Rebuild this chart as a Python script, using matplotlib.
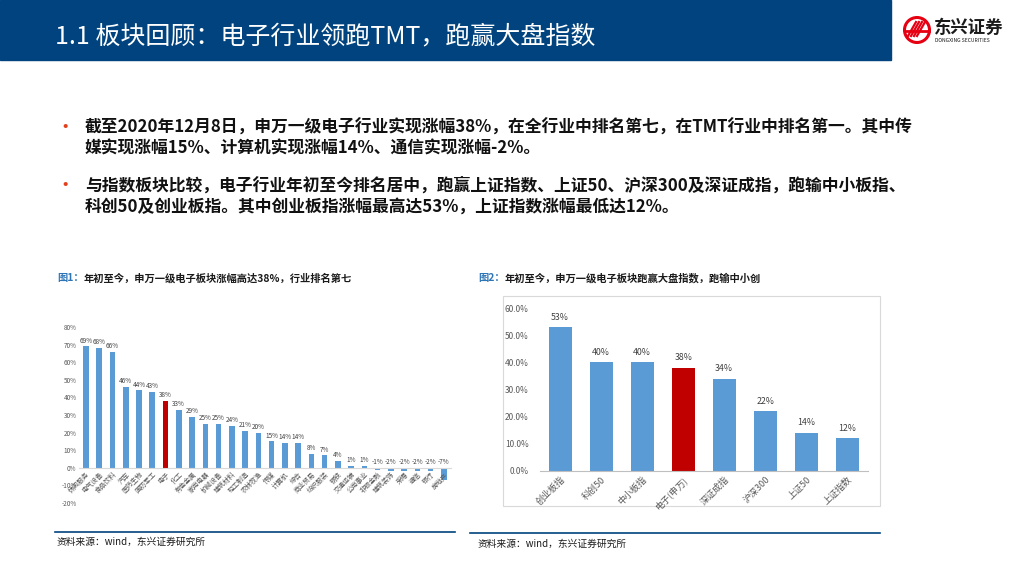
import matplotlib
matplotlib.use("Agg")
import matplotlib.pyplot as plt
from matplotlib.patches import Rectangle, Circle
import numpy as np

plt.rcParams['font.family'] = ['Noto Sans CJK SC', 'DejaVu Sans']

# ---- data: figure 1, Shenwan level-1 industries, YTD change (%)
industries = ["休闲服务", "电气设备", "食品饮料", "汽车", "医药生物", "国防军工", "电子",
              "化工", "有色金属", "家用电器", "机械设备", "建筑材料", "轻工制造", "农林牧渔",
              "传媒", "计算机", "综合", "商业贸易", "纺织服装", "钢铁", "交通运输", "公用事业",
              "非银金融", "建筑装饰", "采掘", "通信", "银行", "房地产"]
industry_chg = [69, 68, 66, 46, 44, 43, 38, 33, 29, 25, 25, 24, 21, 20,
                15, 14, 14, 8, 7, 4, 1, 1, -1, -2, -2, -2, -2, -7]

# ---- data: figure 2, indices YTD change (%)
indices = ["创业板指", "科创50", "中小板指", "电子(申万)", "深证成指", "沪深300", "上证50", "上证指数"]
index_chg = [53, 40, 40, 38, 34, 22, 14, 12]

BLUE = '#5B9BD5'
RED = '#C00000'
HEAD = '#00437E'

fig = plt.figure(figsize=(10.24, 5.76), dpi=100)

# background layer in pixel coords
bg = fig.add_axes([0, 0, 1, 1], zorder=0)
bg.set_xlim(0, 1024)
bg.set_ylim(576, 0)
bg.axis('off')

bg.add_patch(Rectangle((0, 0), 891, 60, color=HEAD))
bg.text(55, 36, "1.1 板块回顾：电子行业领跑TMT，跑赢大盘指数", color='white',
        fontsize=18, va='center', ha='left')

# logo
bg.add_patch(Circle((917, 30), 12.5, fill=False, ec='#E60012', lw=2.2))
for k in range(4):
    bg.plot([908 + k * 3, 916 + k * 3], [36, 22], color='#E60012', lw=1.6)
bg.plot([906, 929], [31, 31], color='#E60012', lw=2)
bg.text(934, 28, "东兴证券", fontsize=12.5, fontweight='bold', color='#1A1A1A',
        va='center', ha='left')
bg.text(935, 41, "DONGXING SECURITIES", fontsize=3.6, color='#1A1A1A',
        va='center', ha='left')

# bullet text
lines = [(128, "截至2020年12月8日，申万一级电子行业实现涨幅38%，在全行业中排名第七，在TMT行业中排名第一。其中传", True),
         (149, "媒实现涨幅15%、计算机实现涨幅14%、通信实现涨幅-2%。", False),
         (186, "与指数板块比较，电子行业年初至今排名居中，跑赢上证指数、上证50、沪深300及深证成指，跑输中小板指、", True),
         (207, "科创50及创业板指。其中创业板指涨幅最高达53%，上证指数涨幅最低达12%。", False)]
for y, s, dot in lines:
    if dot:
        bg.text(65, y, "•", color='#E2401C', fontsize=14, va='center', ha='center')
    bg.text(85, y, s, fontsize=12.1, fontweight='bold', color='#111111', va='center', ha='left')

# captions
bg.text(57, 278, "图1：", fontsize=7.4, fontweight='bold', color='#2E75B6', va='center')
bg.text(84, 278, "年初至今，申万一级电子板块涨幅高达38%，行业排名第七", fontsize=7.4,
        fontweight='bold', color='#1A1A1A', va='center')
bg.text(478, 278, "图2：", fontsize=7.4, fontweight='bold', color='#2E75B6', va='center')
bg.text(505, 278, "年初至今，申万一级电子板块跑赢大盘指数，跑输中小创", fontsize=7.4,
        fontweight='bold', color='#1A1A1A', va='center')

# bottom rules and sources
bg.plot([55, 455], [532, 532], color=HEAD, lw=1.2)
bg.plot([470, 880], [533, 533], color=HEAD, lw=1.2)
bg.text(57, 542, "资料来源：wind，东兴证券研究所", fontsize=7, color='#1A1A1A', va='center')
bg.text(478, 544, "资料来源：wind，东兴证券研究所", fontsize=7, color='#1A1A1A', va='center')

# right chart frame
bg.add_patch(Rectangle((503, 296), 377, 210, fill=False, ec='#D9D9D9', lw=0.8))

# ---- figure 1
ax1 = fig.add_axes([0.0775, 0.1267, 0.3625, 0.3056], zorder=2)
ax1.patch.set_alpha(0)
ax1.spines['bottom'].set_position(('data', 0))
x1 = np.arange(len(industries))
cols1 = [RED if n == "电子" else BLUE for n in industries]
ax1.bar(x1, industry_chg, width=0.42, color=cols1)
for xi, v in zip(x1, industry_chg):
    yy = v + 1 if v > 0 else 1
    ax1.text(xi, yy, f"{v}%", fontsize=4.6, color='#404040', ha='center', va='bottom')
ax1.set_xlim(-0.5, len(industries) - 0.5)
ax1.set_ylim(-20, 80)
ax1.set_yticks(range(-20, 81, 10))
ax1.set_yticklabels([f"{t}%" for t in range(-20, 81, 10)], fontsize=4.6, color='#595959')
ax1.set_xticks(x1)
ax1.set_xticklabels(industries, rotation=45, ha='right', rotation_mode='anchor',
                    fontsize=4.8, color='#595959')
ax1.spines['bottom'].set_color('#D9D9D9')
for s in ['top', 'right', 'left']:
    ax1.spines[s].set_visible(False)
ax1.tick_params(length=0, pad=2)

# ---- figure 2
ax2 = fig.add_axes([0.527, 0.1828, 0.3203, 0.282], zorder=2)
ax2.patch.set_alpha(0)
x2 = np.arange(len(indices))
cols2 = [RED if n == "电子(申万)" else BLUE for n in indices]
ax2.bar(x2, index_chg, width=0.56, color=cols2)
for xi, v in zip(x2, index_chg):
    ax2.text(xi, v + 2, f"{v}%", fontsize=6.3, color='#404040', ha='center', va='bottom')
ax2.set_xlim(-0.5, len(indices) - 0.5)
ax2.set_ylim(0, 60)
ax2.set_yticks(range(0, 61, 10))
ax2.set_yticklabels([f"{t:.1f}%" for t in range(0, 61, 10)], fontsize=6, color='#595959')
ax2.set_xticks(x2)
ax2.set_xticklabels(indices, rotation=45, ha='right', rotation_mode='anchor',
                    fontsize=6.5, color='#595959')
ax2.spines['bottom'].set_color('#BFBFBF')
for s in ['top', 'right', 'left']:
    ax2.spines[s].set_visible(False)
ax2.tick_params(length=0, pad=3)
ax2.tick_params(axis='y', pad=8)

fig.savefig("out.png", dpi=100)
